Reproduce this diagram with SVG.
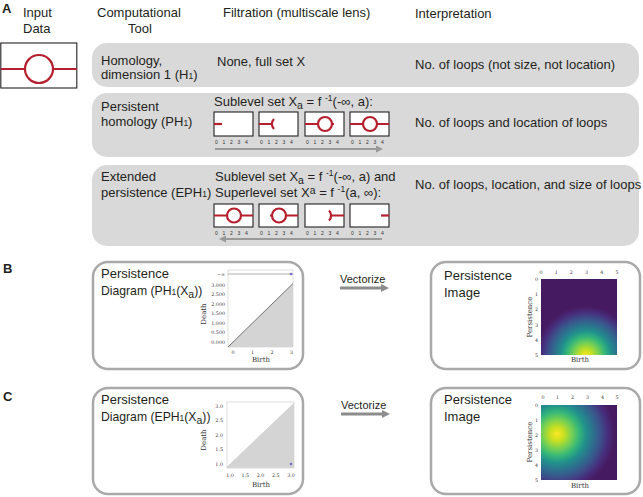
<svg xmlns="http://www.w3.org/2000/svg" width="643" height="497" viewBox="0 0 643 497">
<defs>
<style>
.t{font-family:"Liberation Sans",Arial,sans-serif;font-size:13px;fill:#231f20}
.b{font-weight:bold}
.sm{font-size:8.5px}
.sb{font-size:10.5px}
.row{fill:#d9d9d9}
.card{fill:#fff;stroke:#a9a9a9;stroke-width:2.5}
.fb{fill:#fff;stroke:#231f20;stroke-width:1.1}
.red{fill:none;stroke:#b51f2e;stroke-width:2.2}
.num{font-family:"Liberation Sans",Arial,sans-serif;font-size:5px;fill:#333}
.ser{font-family:"DejaVu Serif","Liberation Serif",serif;fill:#333}
.tk{font-size:4.8px}
.ax{font-size:7px}
.conn{stroke:#999;stroke-width:2;fill:none}
.vec{stroke:#8c8c8c;stroke-width:3;fill:none}
.frame{fill:#fff;stroke:#c8c8c8;stroke-width:0.6}
.tri{fill:#d4d4d4}
.diag{stroke:#555;stroke-width:0.8;fill:none}
.vt{font-size:11px}
.dg{font-size:12.2px}
</style>
<marker id="ah" viewBox="0 0 10 10" refX="0" refY="5" markerWidth="7" markerHeight="7" markerUnits="userSpaceOnUse" orient="auto">
<path d="M0,0 L10,5 L0,10 z" fill="#999"/>
</marker>
<marker id="ahv" viewBox="0 0 10 10" refX="0" refY="5" markerWidth="8" markerHeight="8" markerUnits="userSpaceOnUse" orient="auto">
<path d="M0,0 L10,5 L0,10 z" fill="#8c8c8c"/>
</marker>
<radialGradient id="gB" gradientUnits="userSpaceOnUse" cx="586" cy="356" r="50">
<stop offset="0" stop-color="#fde725"/>
<stop offset="0.12" stop-color="#c8e020"/>
<stop offset="0.25" stop-color="#7ad151"/>
<stop offset="0.38" stop-color="#35b779"/>
<stop offset="0.5" stop-color="#21918c"/>
<stop offset="0.62" stop-color="#2c728e"/>
<stop offset="0.75" stop-color="#3b528b"/>
<stop offset="0.88" stop-color="#472d7b"/>
<stop offset="1" stop-color="#461a60"/>
</radialGradient>
<radialGradient id="gC" gradientUnits="userSpaceOnUse" cx="557" cy="434" r="58">
<stop offset="0" stop-color="#fde725"/>
<stop offset="0.12" stop-color="#c8e020"/>
<stop offset="0.25" stop-color="#7ad151"/>
<stop offset="0.38" stop-color="#35b779"/>
<stop offset="0.5" stop-color="#21918c"/>
<stop offset="0.62" stop-color="#2c728e"/>
<stop offset="0.75" stop-color="#3b528b"/>
<stop offset="0.88" stop-color="#472d7b"/>
<stop offset="1" stop-color="#461a60"/>
</radialGradient>
</defs>

<!-- Panel A headers -->
<g id="headers">
<text class="t b" x="2" y="13">A</text>
<text class="t" x="23" y="17">Input</text>
<text class="t" x="23" y="33">Data</text>
<text class="t" x="97" y="17">Computational</text>
<text class="t" x="128" y="33">Tool</text>
<text class="t" x="223" y="17">Filtration (multiscale lens)</text>
<text class="t" x="415" y="18">Interpretation</text>
</g>

<g id="input-data">
<rect class="fb" x="0.8" y="43" width="76" height="45"/>
<path class="red" d="M0.8,69 H25 M53,69 H76.8"/>
<circle class="red" cx="39" cy="69" r="14"/>
</g>

<g id="row-homology">
<rect class="row" x="92" y="43" width="547" height="44" rx="15"/>
<text class="t" x="101" y="65">Homology,</text>
<text class="t" x="101" y="79">dimension 1 (H<tspan class="sm">1</tspan>)</text>
<text class="t" x="217" y="66">None, full set X</text>
<text class="t" x="415" y="69">No. of loops (not size, not location)</text>
</g>

<g id="row-persistent">
<rect class="row" x="92" y="93" width="547" height="64" rx="15"/>
<text class="t" x="101" y="111">Persistent</text>
<text class="t" x="101" y="126">homology (PH<tspan class="sm">1</tspan>)</text>
<text class="t" x="214" y="106">Sublevel set X<tspan class="sb" dy="3">a</tspan><tspan dy="-3"> = f </tspan><tspan class="sm" dy="-5">-1</tspan><tspan dy="5">(-∞, a):</tspan></text>
<text class="t" x="415" y="127">No. of loops and location of loops</text>
<rect class="fb" x="214" y="112" width="39" height="24"/>
<path class="red" d="M214,124 H222"/>
<rect class="fb" x="259" y="112" width="39" height="24"/>
<path class="red" d="M259,124 H272 M274,119 A7,7 0 0 0 274,129"/>
<rect class="fb" x="305" y="112" width="39" height="24"/>
<path class="red" d="M305,124 H318 M332,124 H334"/>
<circle class="red" cx="325" cy="124" r="7"/>
<rect class="fb" x="350" y="112" width="39" height="24"/>
<path class="red" d="M350,124 H363 M377,124 H389"/>
<circle class="red" cx="370" cy="124" r="7"/>
<text class="num" y="144"><tspan x="215">0</tspan><tspan x="222.5">1</tspan><tspan x="230">2</tspan><tspan x="237.5">3</tspan><tspan x="245">4</tspan></text>
<text class="num" y="144"><tspan x="260">0</tspan><tspan x="267.5">1</tspan><tspan x="275">2</tspan><tspan x="282.5">3</tspan><tspan x="290">4</tspan></text>
<text class="num" y="144"><tspan x="306">0</tspan><tspan x="313.5">1</tspan><tspan x="321">2</tspan><tspan x="328.5">3</tspan><tspan x="336">4</tspan></text>
<text class="num" y="144"><tspan x="351">0</tspan><tspan x="358.5">1</tspan><tspan x="366">2</tspan><tspan x="373.5">3</tspan><tspan x="381">4</tspan></text>
</g>

<g id="row-extended">
<rect class="row" x="92" y="165" width="547" height="81" rx="15"/>
<text class="t" x="101" y="181">Extended</text>
<text class="t" x="101" y="197">persistence (EPH<tspan class="sm">1</tspan>)</text>
<text class="t" x="215" y="181">Sublevel set X<tspan class="sb" dy="3">a</tspan><tspan dy="-3"> = f </tspan><tspan class="sm" dy="-5">-1</tspan><tspan dy="5">(-∞, a) and</tspan></text>
<text class="t" x="215" y="197">Superlevel set X<tspan class="sb" dy="-3">a</tspan><tspan dy="3"> = f </tspan><tspan class="sm" dy="-5">-1</tspan><tspan dy="5">(a, ∞):</tspan></text>
<text class="t" x="415" y="189">No. of loops, location, and size of loops</text>
<rect class="fb" x="214" y="204" width="39" height="23"/>
<path class="red" d="M214,215.5 H227 M241,215.5 H253"/>
<circle class="red" cx="234" cy="215.5" r="7"/>
<rect class="fb" x="259" y="204" width="39" height="23"/>
<path class="red" d="M270,215.5 H272 M286,215.5 H298"/>
<circle class="red" cx="279" cy="215.5" r="7"/>
<rect class="fb" x="305" y="204" width="39" height="23"/>
<path class="red" d="M331,215.5 H344 M329,210.5 A7,7 0 0 1 329,220.5"/>
<rect class="fb" x="350" y="204" width="39" height="23"/>
<path class="red" d="M381,215.5 H389"/>
<text class="num" y="235"><tspan x="215">0</tspan><tspan x="222.5">1</tspan><tspan x="230">2</tspan><tspan x="237.5">3</tspan><tspan x="245">4</tspan></text>
<text class="num" y="235"><tspan x="260">0</tspan><tspan x="267.5">1</tspan><tspan x="275">2</tspan><tspan x="282.5">3</tspan><tspan x="290">4</tspan></text>
<text class="num" y="235"><tspan x="306">0</tspan><tspan x="313.5">1</tspan><tspan x="321">2</tspan><tspan x="328.5">3</tspan><tspan x="336">4</tspan></text>
<text class="num" y="235"><tspan x="351">0</tspan><tspan x="358.5">1</tspan><tspan x="366">2</tspan><tspan x="373.5">3</tspan><tspan x="381">4</tspan></text>
</g>

<!-- Panel B -->
<text class="t b" x="3" y="273">B</text>
<g id="diagram-ph">
<rect class="card" x="93" y="262" width="210" height="107" rx="15"/>
<text class="t" x="101" y="278">Persistence</text>
<text class="t dg" x="101" y="295">Diagram (PH<tspan class="sm">1</tspan>(X<tspan class="sb" dy="2.5">a</tspan><tspan dy="-2.5">))</tspan></text>
<rect class="frame" x="228" y="270" width="65" height="77"/>
<polygon class="tri" points="228,347 293,347 293,283.5"/>
<line class="diag" x1="228" y1="347" x2="293" y2="283.5"/>
<line x1="228" y1="274" x2="293" y2="274" stroke="#777" stroke-width="0.6"/>
<circle cx="291" cy="274" r="1.3" fill="#6f6fc8"/>
<g class="ser tk" text-anchor="end">
<text x="225" y="275.5">−∞</text>
<text x="225" y="286.5">3.000</text>
<text x="225" y="296">2.500</text>
<text x="225" y="305.5">2.000</text>
<text x="225" y="315">1.500</text>
<text x="225" y="324.5">1.000</text>
<text x="225" y="334">0.500</text>
<text x="225" y="343.5">0.000</text>
</g>
<g class="ser tk" text-anchor="middle">
<text x="233" y="354">0</text>
<text x="252.5" y="354">1</text>
<text x="272" y="354">2</text>
<text x="291.5" y="354">3</text>
</g>
<text class="ser ax" x="261" y="362" text-anchor="middle">Birth</text>
<text class="ser ax" transform="translate(206,314) rotate(-90)" text-anchor="middle">Death</text>
</g>

<g id="image-ph">
<rect class="card" x="431" y="262" width="209" height="107" rx="15"/>
<text class="t" x="444" y="280">Persistence</text>
<text class="t" x="444" y="297">Image</text>
<rect x="541" y="279" width="76" height="76" fill="url(#gB)"/>
<g class="ser tk" text-anchor="middle">
<text x="541" y="274">0</text><text x="556.2" y="274">1</text><text x="571.4" y="274">2</text><text x="586.6" y="274">3</text><text x="601.8" y="274">4</text><text x="617" y="274">5</text>
</g>
<g class="ser tk" text-anchor="end">
<text x="538" y="281">0</text><text x="538" y="296">1</text><text x="538" y="311">2</text><text x="538" y="326.5">3</text><text x="538" y="342">4</text><text x="538" y="357">5</text>
</g>
<text class="ser ax" x="580" y="362" text-anchor="middle">Birth</text>
<text class="ser ax" transform="translate(532,317) rotate(-90)" text-anchor="middle">Persistence</text>
</g>

<!-- Panel C -->
<text class="t b" x="3" y="401">C</text>
<g id="diagram-eph">
<rect class="card" x="93" y="388" width="210" height="106" rx="15"/>
<text class="t" x="101" y="404">Persistence</text>
<text class="t dg" x="101" y="421">Diagram (EPH<tspan class="sm">1</tspan>(X<tspan class="sb" dy="2.5">a</tspan><tspan dy="-2.5">))</tspan></text>
<rect class="frame" x="227" y="402" width="67" height="66"/>
<polygon class="tri" points="227,467 227,468 294,468 294,403.2"/>
<line x1="227" y1="467" x2="294" y2="403.2" stroke="#bbb" stroke-width="0.4"/>
<circle cx="291" cy="464" r="1.3" fill="#6f6fc8"/>
<g class="ser tk" text-anchor="end">
<text x="223" y="407.5">3.0</text>
<text x="223" y="422">2.5</text>
<text x="223" y="436.5">2.0</text>
<text x="223" y="451">1.5</text>
<text x="223" y="465.5">1.0</text>
</g>
<g class="ser tk" text-anchor="middle">
<text x="230" y="477">1.0</text>
<text x="245.3" y="477">1.5</text>
<text x="260.5" y="477">2.0</text>
<text x="275.8" y="477">2.5</text>
<text x="291" y="477">3.0</text>
</g>
<text class="ser ax" x="261" y="487" text-anchor="middle">Birth</text>
<text class="ser ax" transform="translate(206,440) rotate(-90)" text-anchor="middle">Death</text>
</g>

<g id="image-eph">
<rect class="card" x="431" y="388" width="209" height="106" rx="15"/>
<text class="t" x="444" y="404">Persistence</text>
<text class="t" x="444" y="421">Image</text>
<rect x="541" y="405" width="76" height="75" fill="url(#gC)"/>
<g class="ser tk" text-anchor="middle">
<text x="543" y="399">0</text><text x="557.5" y="399">1</text><text x="572.5" y="399">2</text><text x="587.5" y="399">3</text><text x="602.5" y="399">4</text><text x="617" y="399">5</text>
</g>
<g class="ser tk" text-anchor="end">
<text x="538" y="407">0</text><text x="538" y="422">1</text><text x="538" y="437">2</text><text x="538" y="452">3</text><text x="538" y="467">4</text><text x="538" y="482">5</text>
</g>
<text class="ser ax" x="580" y="488" text-anchor="middle">Birth</text>
<text class="ser ax" transform="translate(532,442) rotate(-90)" text-anchor="middle">Persistence</text>
</g>

<g id="connectors">
<line class="conn" x1="215" y1="149" x2="376" y2="149" marker-end="url(#ah)"/>
<line class="conn" x1="382" y1="239" x2="226" y2="239" marker-end="url(#ah)"/>
<line class="vec" x1="340" y1="288" x2="381" y2="288" marker-end="url(#ahv)"/>
<line class="vec" x1="341" y1="414" x2="382" y2="414" marker-end="url(#ahv)"/>
<text class="t vt" x="340" y="283">Vectorize</text>
<text class="t vt" x="341" y="409">Vectorize</text>
</g>
</svg>
